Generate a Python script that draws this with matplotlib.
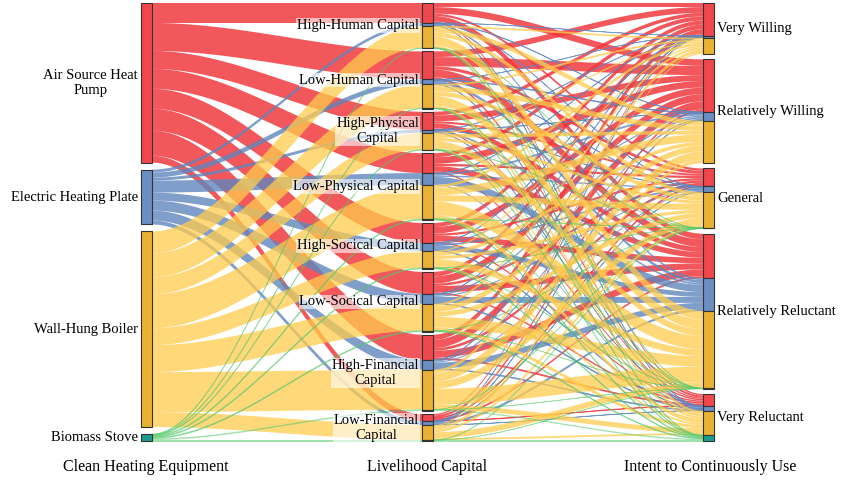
import numpy as np
import matplotlib.pyplot as plt
from matplotlib.patches import Rectangle, Polygon

plt.rcParams['font.family'] = ['Liberation Serif', 'DejaVu Serif']

# --- data ---
equipment = ['Air Source Heat\nPump', 'Electric Heating Plate', 'Wall-Hung Boiler', 'Biomass Stove']
capital = ['High-Human Capital', 'Low-Human Capital', 'High-Physical\nCapital', 'Low-Physical Capital',
           'High-Socical Capital', 'Low-Socical Capital', 'High-Financial\nCapital', 'Low-Financial\nCapital']
intent = ['Very Willing', 'Relatively Willing', 'General', 'Relatively Reluctant', 'Very Reluctant']

# equipment -> capital (rows: equipment)
equip_capital = np.array([
    [20, 28, 18, 20, 20, 22, 25, 7],
    [3, 5, 3, 12, 8, 10, 10, 4],
    [22, 24, 17, 34, 17, 27, 40, 15],
    [0.5, 0.5, 0.5, 1, 1, 1, 1.5, 1],
])
# equipment -> intent shares
equip_intent = np.array([
    [33, 53, 18, 45, 12],
    [2, 9, 6, 33, 5],
    [17, 44, 37, 80, 25],
    [0, 0, 0.5, 0.5, 6],
])

node_colors = ['#f0474d', '#6b8fc2', '#e9b233', '#1c9c8c']
flow_colors = ['#f0393f', '#5f86bd', '#ffcc4d', '#55c96a']
flow_alpha = [0.85, 0.8, 0.75, 0.55]

fig = plt.figure(figsize=(8.56, 4.86), dpi=100)
ax = fig.add_axes([0, 0, 1, 1])
ax.set_xlim(0, 856)
ax.set_ylim(486, 0)
ax.axis('off')

top, bottom = 3, 441
xs = [(141, 152), (422, 433), (703, 714)]
n_e, n_c, n_i = len(equipment), len(capital), len(intent)

# capital -> intent flows per equipment
shares = equip_intent / equip_intent.sum(axis=1, keepdims=True)
cap_int = equip_capital[:, :, None] * shares[:, None, :]  # e, c, i

left_tot = equip_capital.sum(axis=1)
mid_tot = equip_capital.sum(axis=0)
right_tot = cap_int.sum(axis=(0, 1))
total = left_tot.sum()
scale = (bottom - top - 7 * 3) / total


def layout(tots):
    gap = (bottom - top - scale * tots.sum()) / (len(tots) - 1)
    ys, y = [], top
    for t in tots:
        ys.append(y)
        y += t * scale + gap
    return ys


left_y = layout(left_tot)
mid_y = layout(mid_tot)
right_y = layout(right_tot)


def ribbon(x0, y0, x1, y1, h, color, alpha):
    t = np.linspace(0, 1, 60)
    s = 3 * t ** 2 - 2 * t ** 3
    xx = x0 + (x1 - x0) * t
    yt = y0 + (y1 - y0) * s
    pts = np.vstack([np.column_stack([xx, yt]), np.column_stack([xx[::-1], yt[::-1] + h])])
    lw = 0.5 if h < 1 else 0
    ax.add_patch(Polygon(pts, closed=True, fc=color, ec=color if h < 1 else 'none',
                         lw=lw, alpha=alpha, zorder=1))


# segment tops within middle nodes (per equipment)
mid_seg = np.zeros((n_e, n_c))
for c in range(n_c):
    y = mid_y[c]
    for e in range(n_e):
        mid_seg[e, c] = y
        y += equip_capital[e, c] * scale

# left -> middle
for e in range(n_e):
    y = left_y[e]
    for c in range(n_c):
        h = equip_capital[e, c] * scale
        ribbon(xs[0][1], y, xs[1][0], mid_seg[e, c], h, flow_colors[e], flow_alpha[e])
        y += h

# right node segments
right_seg = np.zeros((n_e, n_i))
for i in range(n_i):
    y = right_y[i]
    for e in range(n_e):
        right_seg[e, i] = y
        y += cap_int[e, :, i].sum() * scale

# middle -> right
right_cursor = right_seg.copy()
for e in range(n_e):
    for c in range(n_c):
        y = mid_seg[e, c]
        for i in range(n_i):
            h = cap_int[e, c, i] * scale
            if h > 0:
                ribbon(xs[1][1], y, xs[2][0], right_cursor[e, i], h, flow_colors[e], flow_alpha[e])
            y += h
            right_cursor[e, i] += h


def stack_node(x, segs):
    for y, h, col in segs:
        if h > 0:
            ax.add_patch(Rectangle((x[0], y), x[1] - x[0], h, fc=col, ec='#333333', lw=0.8, zorder=3))


for e in range(n_e):
    stack_node(xs[0], [(left_y[e], left_tot[e] * scale, node_colors[e])])
for c in range(n_c):
    stack_node(xs[1], [(mid_seg[e, c], equip_capital[e, c] * scale, node_colors[e]) for e in range(n_e)])
for i in range(n_i):
    stack_node(xs[2], [(right_seg[e, i], cap_int[e, :, i].sum() * scale, node_colors[e]) for e in range(n_e)])

fs = 10.5
bb = dict(fc='white', ec='none', alpha=0.6, pad=0.5)
for e in range(n_e):
    yc = left_y[e] + left_tot[e] * scale / 2
    ax.text(138, yc, equipment[e], ha='right', va='center', fontsize=fs, multialignment='center', zorder=4)
for c in range(n_c):
    yc = mid_y[c] + mid_tot[c] * scale / 2
    ax.text(419, yc, capital[c], ha='right', va='center', fontsize=fs, multialignment='center',
            bbox=bb, zorder=4)
for i in range(n_i):
    yc = right_y[i] + right_tot[i] * scale / 2
    ax.text(717, yc, intent[i], ha='left', va='center', fontsize=fs, bbox=bb, zorder=4)

ax.text(146, 467, 'Clean Heating Equipment', ha='center', va='center', fontsize=11.5)
ax.text(427, 467, 'Livelihood Capital', ha='center', va='center', fontsize=11.5)
ax.text(710, 467, 'Intent to Continuously Use', ha='center', va='center', fontsize=11.5)

fig.savefig('out.png', dpi=100)
